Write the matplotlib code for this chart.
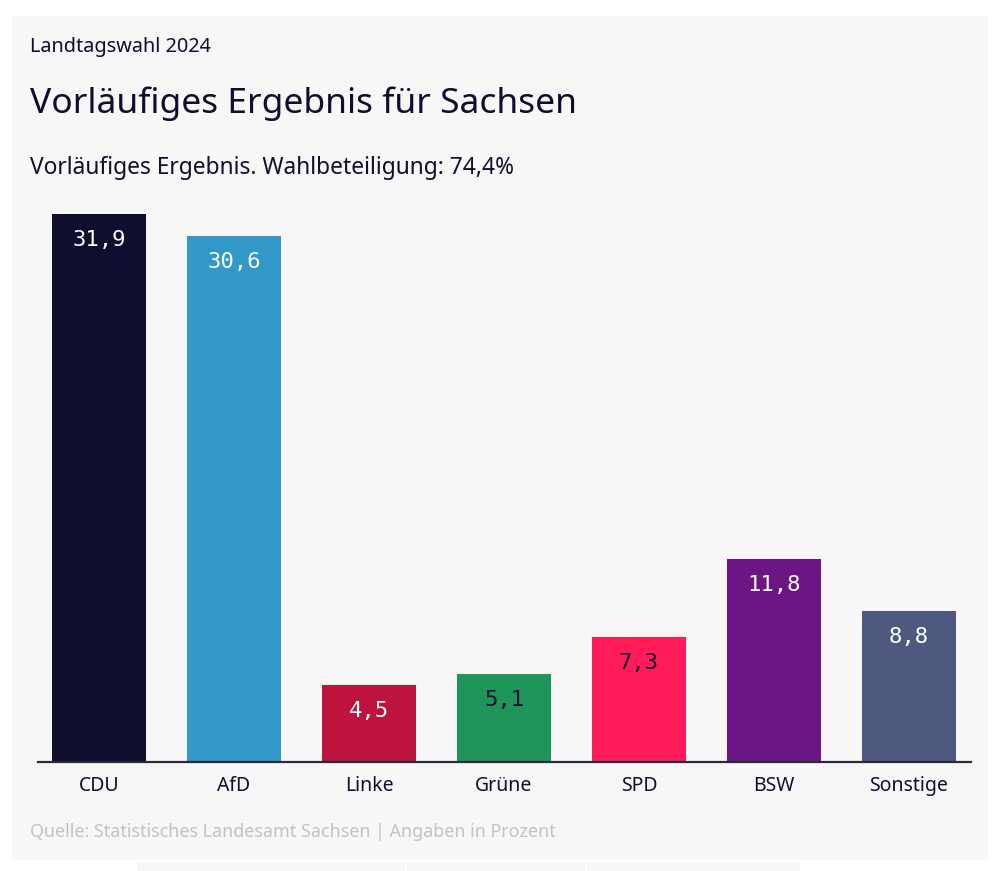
import matplotlib
matplotlib.use("Agg")
import matplotlib.pyplot as plt
from matplotlib.patches import Rectangle

parties = ["CDU", "AfD", "Linke", "Grüne", "SPD", "BSW", "Sonstige"]
values = [31.9, 30.6, 4.5, 5.1, 7.3, 11.8, 8.8]
labels = ["31,9", "30,6", "4,5", "5,1", "7,3", "11,8", "8,8"]
colors = ["#0f0e2e", "#3298c8", "#be123f", "#1f955c", "#ff1b5a", "#6c1685", "#4f587f"]
label_colors = ["white", "white", "white", "#0f0e2e", "#0f0e2e", "white", "white"]

W, H = 1000, 871
fig = plt.figure(figsize=(W / 100, H / 100), dpi=100)
fig.patch.set_facecolor("white")

# card background
fig.patches.append(Rectangle((12 / W, 1 - 860 / H), (988 - 12) / W, (860 - 16) / H,
                             transform=fig.transFigure, facecolor="#f7f7f7",
                             edgecolor="none", zorder=-5))
for x0, x1 in [(137, 405), (407, 585), (587, 800)]:
    fig.patches.append(Rectangle((x0 / W, 0), (x1 - x0) / W, (871 - 862) / H,
                                 transform=fig.transFigure, facecolor="#f7f7f7",
                                 edgecolor="none", zorder=-5))

font = "Noto Sans"
dark = "#0f0e2e"

fig.text(30 / W, 1 - 47 / H, "Landtagswahl 2024", fontsize=14.3, family=font,
         color=dark, va="center", ha="left")
fig.text(30 / W, 1 - 104 / H, "Vorläufiges Ergebnis für Sachsen", fontsize=25.5,
         family=font, color=dark, va="center", ha="left")
fig.text(30 / W, 1 - 168 / H, "Vorläufiges Ergebnis. Wahlbeteiligung: 74,4%",
         fontsize=16.4, family=font, color=dark, va="center", ha="left")
fig.text(30 / W, 1 - 832 / H, "Quelle: Statistisches Landesamt Sachsen | Angaben in Prozent",
         fontsize=12.9, family=font, color="#c2c2c2", va="center", ha="left")

# axes: x from 38 to 971 px, y from 214 (31.9) to 762 (0)
ax = fig.add_axes([38 / W, 1 - 762 / H, (971 - 38) / W, (762 - 214) / H])
ax.set_zorder(5)
ax.set_facecolor("none")
x = list(range(len(parties)))
c0 = 99
step = 135
ax.set_xlim((38 - c0) / step, (971 - c0) / step)
ax.set_ylim(0, values[0])
ax.bar(x, values, width=94 / step, color=colors, zorder=2)

px_per_unit = (762 - 214) / values[0]
for xi, v, lab, lc in zip(x, values, labels, label_colors):
    ax.text(xi, v - 26 / px_per_unit, lab, ha="center", va="center",
            fontsize=16, family="DejaVu Sans Mono", color=lc, zorder=3)

for s in ["top", "right", "left"]:
    ax.spines[s].set_visible(False)
ax.spines["bottom"].set_color("#2a2a3a")
ax.spines["bottom"].set_linewidth(1.6)
ax.spines["bottom"].set_zorder(4)
ax.set_yticks([])
ax.set_xticks(x)
ax.set_xticklabels(parties, fontsize=14, family=font, color=dark)
ax.tick_params(axis="x", length=0, pad=10)

fig.savefig("out.png", dpi=100, facecolor="white")
